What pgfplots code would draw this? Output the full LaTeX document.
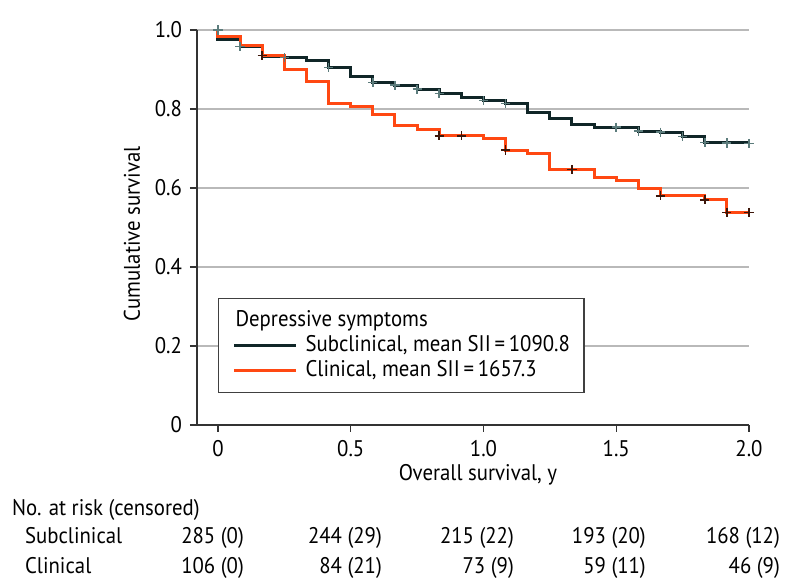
\documentclass[border=0pt]{standalone}
\usepackage{pgfplots}
\pgfplotsset{compat=1.18}
\usepackage{fontspec}
\setmainfont{PT Sans}[FakeStretch=0.92]

\definecolor{subdark}{RGB}{16,38,40}
\definecolor{clinorange}{RGB}{255,72,18}
\definecolor{submark}{RGB}{92,124,124}
\definecolor{clinmark}{RGB}{60,22,10}
\definecolor{gridgray}{RGB}{185,185,185}

% survival estimates, one value per month (step held until the next month)
\pgfplotstableread{
x y
0 1.000
0 0.977
0.0833 0.958
0.1667 0.933
0.2500 0.930
0.3333 0.922
0.4167 0.905
0.5000 0.881
0.5833 0.867
0.6667 0.860
0.7500 0.850
0.8333 0.839
0.9167 0.829
1.0000 0.821
1.0833 0.814
1.1667 0.792
1.2500 0.776
1.3333 0.762
1.4167 0.754
1.5000 0.754
1.5833 0.744
1.6667 0.741
1.7500 0.730
1.8333 0.715
1.9167 0.714
2.0000 0.713
}\subclin

\pgfplotstableread{
x y
0 1.000
0 0.984
0.0833 0.962
0.1667 0.935
0.2500 0.899
0.3333 0.869
0.4167 0.814
0.5000 0.806
0.5833 0.787
0.6667 0.759
0.7500 0.749
0.8333 0.732
0.9167 0.732
1.0000 0.725
1.0833 0.696
1.1667 0.688
1.2500 0.647
1.3333 0.647
1.4167 0.627
1.5000 0.620
1.5833 0.599
1.6667 0.580
1.7500 0.580
1.8333 0.570
1.9167 0.538
2.0000 0.538
}\clin

% censoring marks
\pgfplotstableread{
x y
0 1.000
0.0833 0.958
0.2500 0.930
0.4167 0.905
0.5833 0.867
0.6667 0.860
0.7500 0.850
0.8333 0.839
1.0000 0.821
1.0833 0.814
1.5000 0.754
1.5833 0.744
1.6667 0.741
1.7500 0.730
1.8333 0.715
1.9167 0.714
2.0000 0.713
}\subcens

\pgfplotstableread{
x y
0.1667 0.935
0.8333 0.732
0.9167 0.732
1.0833 0.696
1.3333 0.647
1.6667 0.580
1.8333 0.570
1.9167 0.538
2.0000 0.538
}\clincens

\begin{document}
\begin{tikzpicture}[font=\fontsize{11.3}{13.5}\selectfont]
\useasboundingbox (-98.5pt,-81.5pt) rectangle (298.5pt,212.5pt);
\begin{axis}[
    at={(0,0)}, anchor=south west,
    scale only axis, width=276pt, height=197.5pt,
    xmin=-0.079, xmax=2, ymin=0, ymax=1,
    axis x line*=bottom, axis y line*=left,
    axis line style={-, black!80, line width=0.6pt},
    tick align=outside, major tick length=3.5pt,
    tick style={black!80, line width=0.6pt},
    xtick={0,0.5,1,1.5,2}, xticklabels={0,0.5,1.0,1.5,2.0},
    ytick={0,0.2,0.4,0.6,0.8,1}, yticklabels={0,0.2,0.4,0.6,0.8,1.0},
    ymajorgrids, grid style={gridgray, line width=0.8pt},
    xticklabel style={yshift=-0.5pt},
    yticklabel style={xshift=-0.5pt},
    xlabel={Overall survival, y},
    ylabel={Cumulative survival},
    xlabel style={at={(axis description cs:0.509,-0.127)}, anchor=center},
    ylabel style={at={(axis description cs:-0.118,0.484)}, anchor=center},
    clip=false,
    legend cell align=left,
    legend image code/.code={\draw[#1] (0pt,0pt) -- (31pt,0pt);},
    legend style={at={(0.038,0.3215)}, anchor=north west,
        draw=black!75, line width=0.6pt,
        inner xsep=7pt, inner ysep=5.5pt,
        column sep=4pt, row sep=1.5pt,
        nodes={inner sep=0pt, text height=8.2pt, text depth=2.8pt}},
]
\addlegendimage{empty legend}
\addlegendentry{\hspace*{-35pt}Depressive symptoms}

\addplot[const plot, subdark, line width=1.5pt] table[x=x, y=y] {\subclin};
\addlegendentry{Subclinical, mean SII\,=\,1090.8}
\addplot[const plot, clinorange, line width=1.5pt] table[x=x, y=y] {\clin};
\addlegendentry{Clinical, mean SII\,=\,1657.3}

\addplot[only marks, mark=+, mark size=2.3pt, submark, line width=0.8pt, forget plot] table[x=x, y=y] {\subcens};
\addplot[only marks, mark=+, mark size=2.3pt, clinmark, line width=0.8pt, forget plot] table[x=x, y=y] {\clincens};

% number at risk table
\node[anchor=base west] at (axis cs:-0.802,-0.228) {No. at risk (censored)};
\node[anchor=base west] at (axis cs:-0.753,-0.301) {Subclinical};
\node[anchor=base west] at (axis cs:-0.753,-0.376) {Clinical};
\node[anchor=base east] at (axis cs:0.124,-0.301) {285 (0)};
\node[anchor=base east] at (axis cs:0.644,-0.301) {244 (29)};
\node[anchor=base east] at (axis cs:1.141,-0.301) {215 (22)};
\node[anchor=base east] at (axis cs:1.638,-0.301) {193 (20)};
\node[anchor=base east] at (axis cs:2.143,-0.301) {168 (12)};
\node[anchor=base east] at (axis cs:0.124,-0.376) {106 (0)};
\node[anchor=base east] at (axis cs:0.644,-0.376) {84 (21)};
\node[anchor=base east] at (axis cs:1.141,-0.376) {73 (9)};
\node[anchor=base east] at (axis cs:1.638,-0.376) {59 (11)};
\node[anchor=base east] at (axis cs:2.143,-0.376) {46 (9)};
\end{axis}
\end{tikzpicture}
\end{document}
